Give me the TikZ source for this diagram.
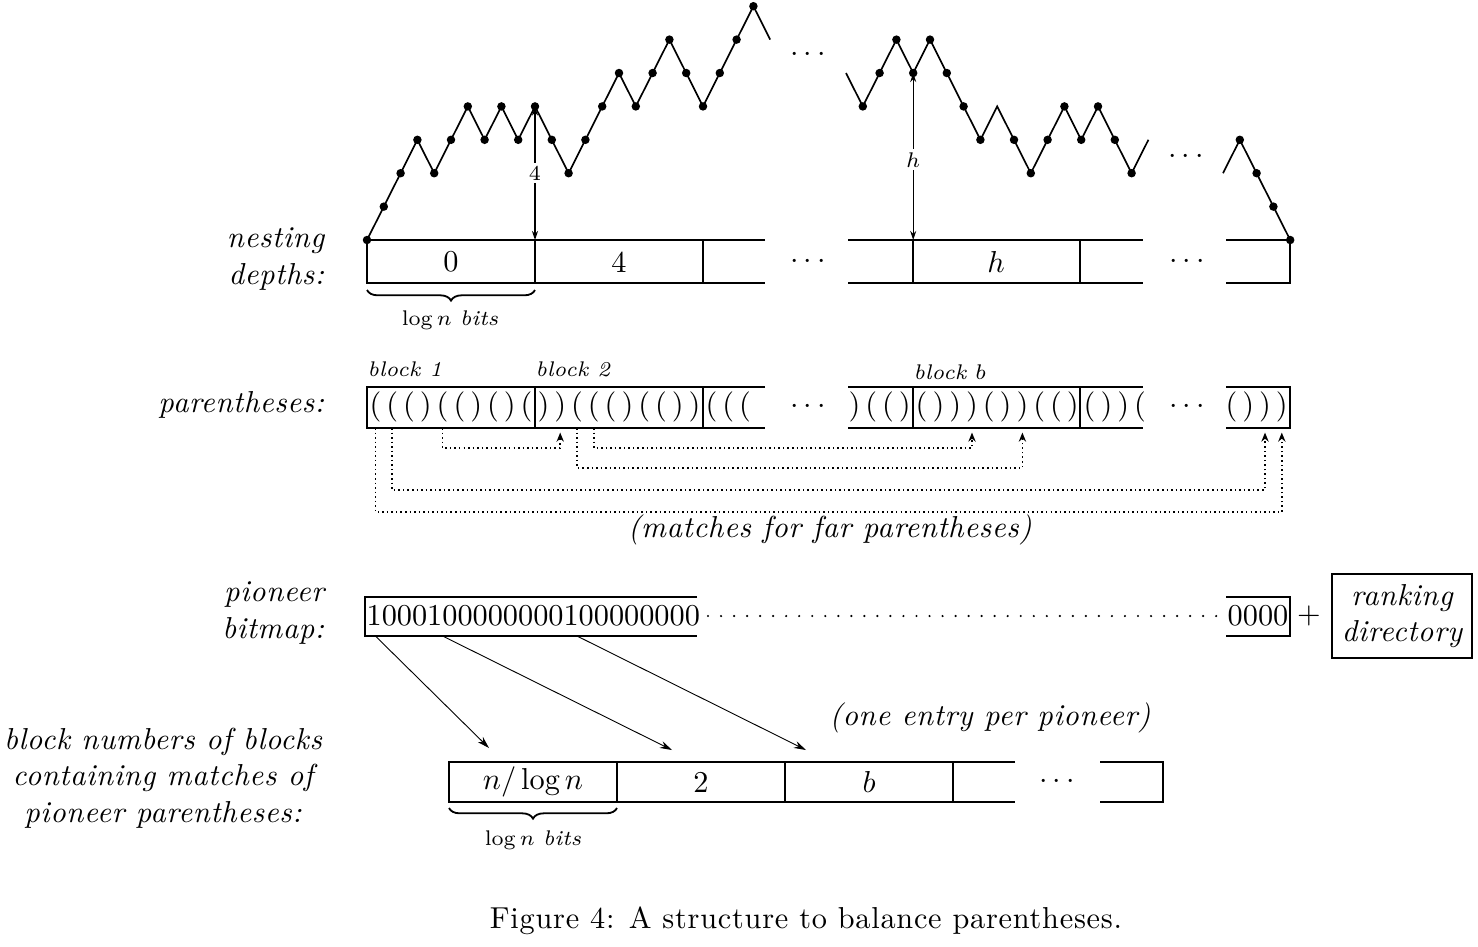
\documentclass[tikz,border=0pt]{standalone}
\usepackage{fontspec}
\newfontfamily\spacedit{Latin Modern Roman}[LetterSpace=2.0]
\newfontfamily\spacedrm{Latin Modern Roman}[LetterSpace=2.5]
\usetikzlibrary{arrows.meta,decorations.pathreplacing}

\tikzset{
  rowname/.style={font=\spacedit\itshape, anchor=east, align=right},
  notetext/.style={font=\spacedit\itshape, align=center},
  blocktag/.style={font=\scriptsize\itshape, anchor=west, inner sep=0pt},
  parenchar/.style={inner sep=0pt},
  boxline/.style={line width=0.6pt},
  walkline/.style={line width=0.55pt},
  deptharrow/.style={line width=0.4pt, {Stealth[length=3pt,width=2pt]}-{Stealth[length=3pt,width=2pt]}},
  farmatch/.style={densely dotted, line width=0.5pt, shorten >=1.5pt, -{Stealth[length=3pt,width=2.4pt,open]}},
  pioptr/.style={line width=0.3pt, -{Stealth[length=4pt,width=2.4pt]}},
  bitsbrace/.style={decorate, decoration={brace, mirror, amplitude=3.5pt}, line width=0.6pt},
}

\begin{document}
\begin{tikzpicture}[x=0.33pt, y=-0.33pt]
\useasboundingbox (0,0) rectangle (1478,946);

% the walk of nesting depths
\foreach \d [count=\k from 0] in {0,1,2,3,2,3,4,3,4,3,4,3,2,3,4,5,4,5,6,5,4,5,6,7,6}
  \coordinate (u\k) at ({367+16.8*\k},{240-33.4*\d});
\foreach \d [count=\k from 0] in {5,4,5,6,5,6,5,4,3,4,3,2,3,4,3,4,3,2,3}
  \coordinate (v\k) at ({846+16.8*\k},{240-33.4*\d});
\foreach \d [count=\k from 0] in {2,3,2,1,0}
  \coordinate (w\k) at ({1223+16.8*\k},{240-33.4*\d});

\draw[walkline] (u0) \foreach \k in {1,...,24} {-- (u\k)};
\draw[walkline] (v0) \foreach \k in {1,...,18} {-- (v\k)};
\draw[walkline] (w0) -- (w1) -- (w2) -- (w3) -- (w4);
\foreach \k in {0,...,23} \fill (u\k) circle (1.4pt);
\foreach \k in {1,...,8,10,11,...,17} \fill (v\k) circle (1.4pt);
\foreach \k in {1,...,4} \fill (w\k) circle (1.4pt);

\node (gapa) at (808,55) {$\cdots$};
\node (gapb) at (1186,157) {$\cdots$};

% rows of cells (depths, parentheses)
\foreach \t/\b in {240/283, 387/428} {
  \draw[boxline] (765,\t) -- (367,\t) -- (367,\b) -- (765,\b);
  \draw[boxline] (535,\t) -- (535,\b) (703,\t) -- (703,\b);
  \draw[boxline] (848,\t) -- (1143,\t) (848,\b) -- (1143,\b);
  \draw[boxline] (913,\t) -- (913,\b) (1080,\t) -- (1080,\b);
  \draw[boxline] (1226,\t) -- (1290,\t) -- (1290,\b) -- (1226,\b);
}

\node[rowname] (nest) at (335,259) {nesting\\depths:};
\node (d0) at (451,262) {0};
\node (d4) at (619,262) {4};
\node (dh) at (996,262) {$h$};
\node (dgapa) at (808,262) {$\cdots$};
\node (dgapb) at (1187,262) {$\cdots$};

\coordinate (dtop) at (0,240);
\draw[deptharrow] (u10) -- node[fill=white, inner sep=1pt, font=\scriptsize] (lfour) {4} (u10 |- dtop);
\draw[deptharrow] (v4) -- node[fill=white, inner sep=1pt, font=\scriptsize, pos=0.52] (lh) {$h$} (v4 |- dtop);

\draw[bitsbrace] (367,290) -- (535,290);
\node[font=\scriptsize] (wa) at (450,320) {$\log n$ \textit{bits}};

% parentheses
\node[rowname] (par) at (335,405) {parentheses:};
\node[blocktag] (blka) at (367,369) {block 1};
\node[blocktag] (blkb) at (535,369) {block 2};
\node[blocktag] (blkc) at (913,372) {block $b$};

\foreach \ch [count=\i] in {o,o,o,c,o,o,c,o,c,o, c,c,o,o,o,c,o,o,c,c, o,o,o}
  \node[parenchar] (a\i) at ({367+16.8*(\i-0.5)},407) {\if\ch o(\else)\fi};
\foreach \ch [count=\i] in {c,o,o,c, o,c,c,c,o,c,c,o,o,c, o,c,c,o}
  \node[parenchar] (b\i) at ({846+16.8*(\i-0.5)},407) {\if\ch o(\else)\fi};
\foreach \ch [count=\i] in {o,c,c,c}
  \node[parenchar] (c\i) at ({1223+16.8*(\i-0.5)},407) {\if\ch o(\else)\fi};
\node (pgapa) at (808,407) {$\cdots$};
\node (pgapb) at (1187,407) {$\cdots$};

\coordinate (pbot) at (0,428);
\draw[farmatch] (a5 |- pbot) -- ++(0,20) -| (a12 |- pbot);
\draw[farmatch] (a14 |- pbot) -- ++(0,20) -| (b8 |- pbot);
\draw[farmatch] (a13 |- pbot) -- ++(0,40) -| (b11 |- pbot);
\draw[farmatch] (a2 |- pbot) -- ++(0,62) -| (c3 |- pbot);
\draw[farmatch] (a1 |- pbot) -- ++(0,84) -| (c4 |- pbot);
\node[notetext] (farnote) at (830,530) {(matches for far parentheses)};

% pioneer bitmap
\node[rowname] (pion) at (335,613) {pioneer\\bitmap:};
\draw[boxline] (697,597) -- (365,597) -- (365,636) -- (697,636);
\node[anchor=west, inner sep=0pt] (bitmap) at (366,616) {1000100000000100000000};
\draw[line width=0.8pt, line cap=round, dash pattern=on 0pt off 4.3pt] (708,616) -- (1220,616);
\draw[boxline] (1226,597) -- (1290,597) -- (1290,636) -- (1226,636);
\node (tail) at (1258,616) {0000};
\node (plus) at (1309,616) {$+$};
\node[notetext, draw, line width=0.6pt, minimum width=46.2pt, minimum height=27.4pt] (rank) at (1402,616) {ranking\\directory};

% block numbers of pioneer matches
\node[notetext] (blocks) at (163,778) {block numbers of blocks\\containing matches of\\pioneer parentheses:};
\draw[boxline] (1015,762) -- (449,762) -- (449,802) -- (1015,802);
\foreach \x in {617,785,953} \draw[boxline] (\x,762) -- (\x,802);
\draw[boxline] (1100,762) -- (1163,762) -- (1163,802) -- (1100,802);
\node (nb1) at (533,782) {$n/\log n$};
\node (nb2) at (701,782) {2};
\node (nb3) at (869,782) {$b$};
\node (nbgap) at (1057,782) {$\cdots$};
\node[notetext] (onenote) at (990,718) {(one entry per pioneer)};

\coordinate (pio) at (0,636);
\coordinate (e1) at (489,748);
\coordinate (e2) at (672,750);
\coordinate (e3) at (806,750);
\draw[pioptr] (a1 |- pio) -- (e1);
\draw[pioptr] (a5 |- pio) -- (e2);
\draw[pioptr] (a13 |- pio) -- (e3);

\draw[bitsbrace] (449,808) -- (617,808);
\node[font=\scriptsize] (wb) at (533,840) {$\log n$ \textit{bits}};

\node[font=\spacedrm] (caption) at (806,921) {Figure 4: A structure to balance parentheses.};
\end{tikzpicture}
\end{document}
